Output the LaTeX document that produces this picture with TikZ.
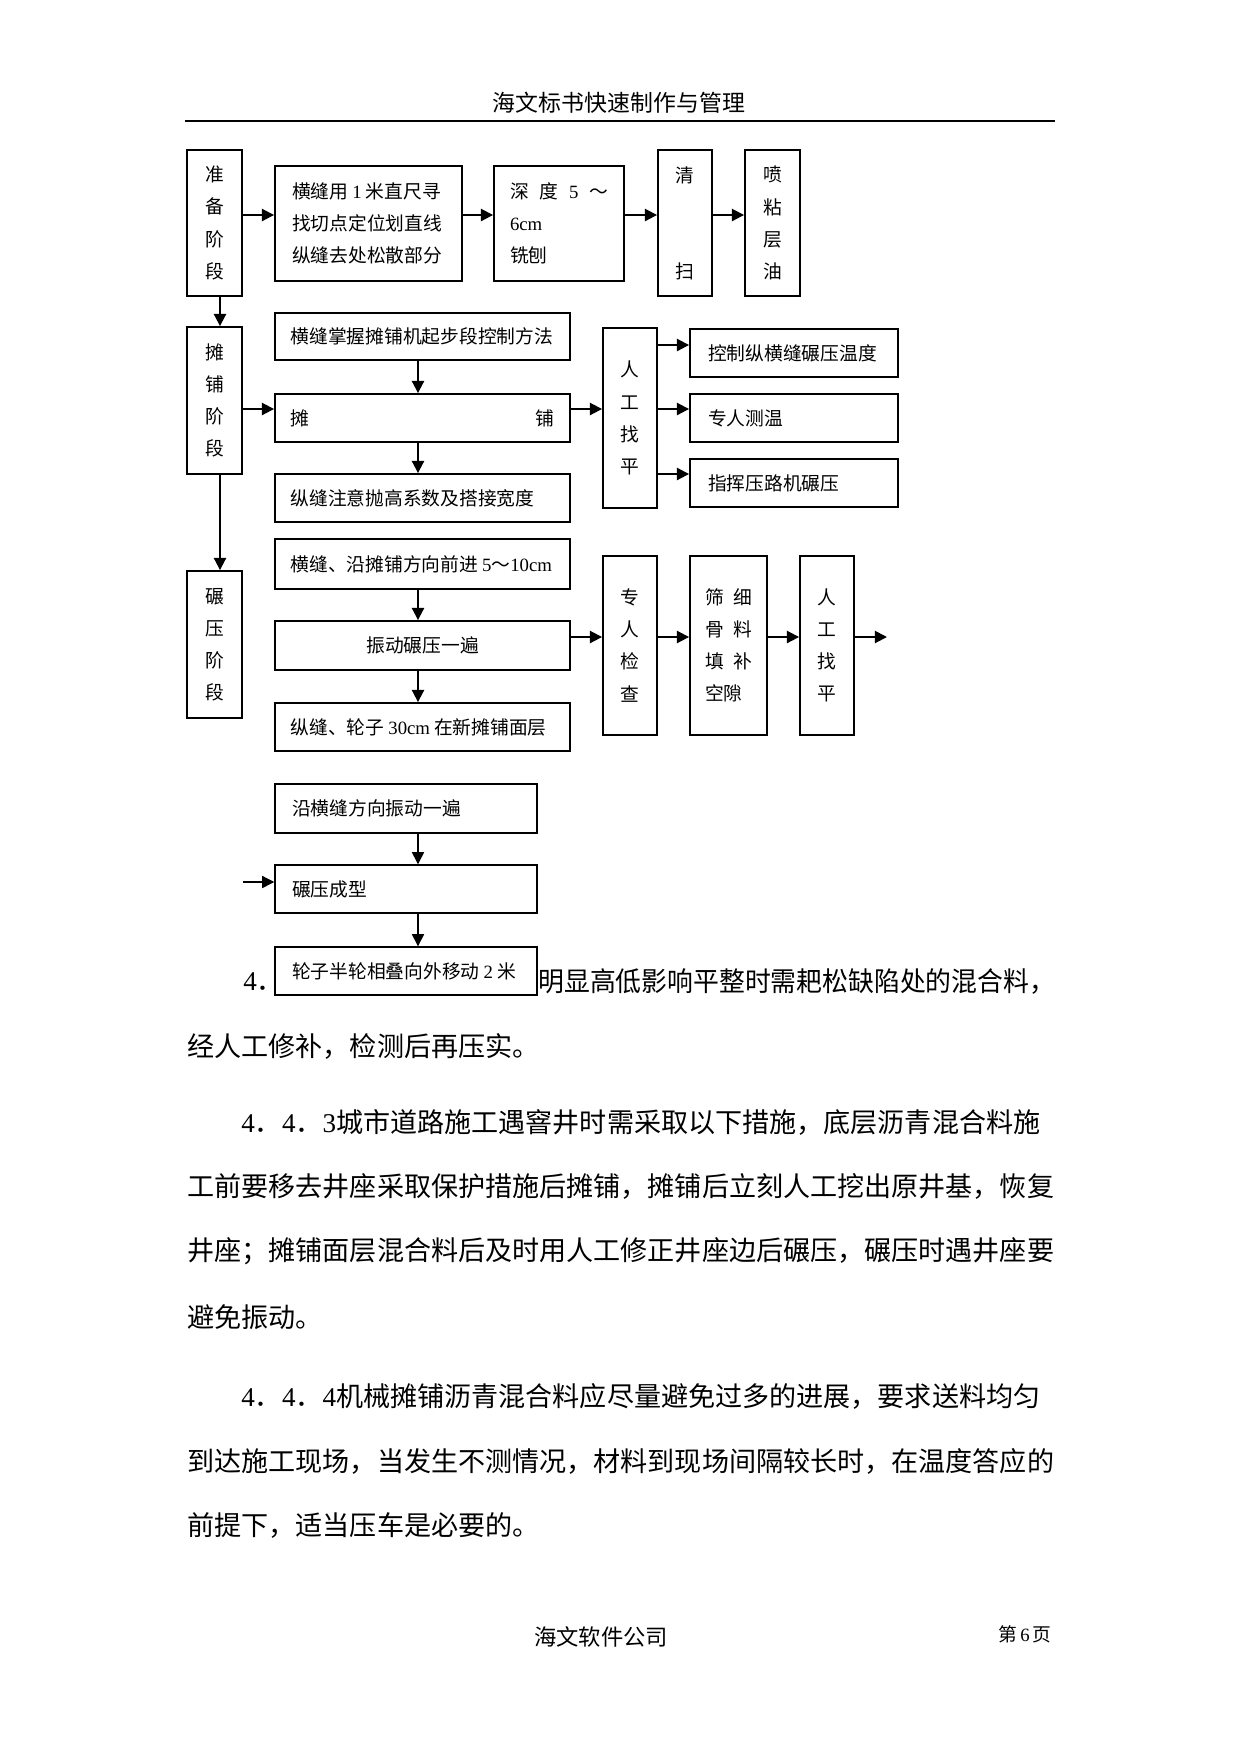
\documentclass[tikz,border=0pt]{standalone}
\usepackage{fontspec}
\usepackage{graphicx}
\setmainfont{Liberation Serif}
\newfontfamily\cjk{Noto Sans CJK SC}
\usetikzlibrary{arrows.meta}
\newdimen\pxu \pxu=0.48pt
\newcommand\latn[1]{{\rmfamily #1}}
\newcommand\dtext{\cjk\fontsize{9pt}{15.4pt}\selectfont}
\newcommand\btext{\cjk\fontsize{13pt}{16pt}\selectfont}
\tikzset{
  bx/.style={draw, line width=0.9pt, fill=white, inner sep=0pt, font=\dtext},
  vbx/.style={bx, align=center},
  lbx/.style={bx, align=left},
  thinbx/.style={bx, align=left, line width=0.7pt},
  arr/.style={line width=0.9pt, -{Triangle[length=5.8pt, width=5.8pt]}},
  thinarr/.style={line width=0.7pt, -{Triangle[length=5.8pt, width=5.8pt]}},
  body/.style={font=\btext, inner sep=0pt, anchor=west}
}
\begin{document}
\begin{tikzpicture}[x=\pxu, y=-\pxu]
\fill[white] (0,0) rectangle (1241,1754);
\useasboundingbox (0,0) rectangle (1241,1754);

% header and footer
\node[font=\cjk\fontsize{11pt}{13pt}\selectfont, inner sep=0pt] (hdr) at (619,103) {海文标书快速制作与管理};
\coordinate (hl) at (185,121);
\coordinate (hr) at (1055,121);
\draw[line width=1pt] (hl) -- (hr);
\node[font=\cjk\fontsize{10.7pt}{13pt}\selectfont, inner sep=0pt] (ftr) at (601,1637) {海文软件公司};
\node[font=\cjk\fontsize{9pt}{11pt}\selectfont, inner sep=0pt, anchor=east] (pg) at (1052,1634) {第\,\latn{6}\,页};

% row 1
\node[vbx, minimum width=55\pxu, minimum height=146\pxu] (A1) at (214.5,223) {准\\备\\阶\\段};
\node[lbx, text width=153\pxu, inner xsep=17\pxu, minimum height=115\pxu] (A2) at (368.5,223.5)
  {横缝用\hspace{2pt}\latn{1}\hspace{2pt}米直尺寻\\找切点定位划直线\\纵缝去处松散部分};
\node[lbx, text width=98\pxu, inner xsep=16\pxu, minimum height=115\pxu] (A3) at (559,223.5)
  {\hbox to 98\pxu{深\hfill 度\hfill\latn{5}\hfill ～}\\\latn{6cm}\\铣刨};
\node[vbx, minimum width=54\pxu, minimum height=146\pxu] (A4) at (685,223) {清\\\mbox{}\\\mbox{}\\扫};
\node[vbx, minimum width=55\pxu, minimum height=146\pxu] (A5) at (772.5,223) {喷\\粘\\层\\油};

% row 2
\node[vbx, minimum width=55\pxu, minimum height=147\pxu] (B1) at (214.5,400.5) {摊\\铺\\阶\\段};
\node[lbx, text width=264\pxu, inner xsep=15.5\pxu, minimum height=47\pxu] (B2) at (422.5,336.5) {横缝掌握摊铺机起步段控制方法};
\node[lbx, text width=264\pxu, inner xsep=15.5\pxu, minimum height=48\pxu] (B3) at (422.5,418) {\hbox to 264\pxu{摊\hfill 铺}};
\node[lbx, text width=264\pxu, inner xsep=15.5\pxu, minimum height=48\pxu] (B4) at (422.5,498) {纵缝注意抛高系数及搭接宽度};
\node[vbx, minimum width=54\pxu, minimum height=180\pxu] (B5) at (630,418) {人\\工\\找\\平};
\node[lbx, text width=172\pxu, inner xsep=18\pxu, minimum height=48\pxu] (B6) at (794,353) {控制纵横缝碾压温度};
\node[lbx, text width=172\pxu, inner xsep=18\pxu, minimum height=48\pxu] (B7) at (794,418) {专人测温};
\node[lbx, text width=172\pxu, inner xsep=18\pxu, minimum height=48\pxu] (B8) at (794,483) {指挥压路机碾压};

% row 3
\node[vbx, minimum width=55\pxu, minimum height=147\pxu] (C1) at (214.5,644.5) {碾\\压\\阶\\段};
\node[lbx, text width=264\pxu, inner xsep=15.5\pxu, minimum height=50\pxu] (C2) at (422.5,564)
  {横缝、沿摊铺方向前进\hspace{2pt}\latn{5}～\latn{10cm}};
\node[vbx, minimum width=295\pxu, minimum height=49\pxu] (C3) at (422.5,645.5) {振动碾压一遍};
\node[lbx, text width=264\pxu, inner xsep=15.5\pxu, minimum height=48\pxu] (C4) at (422.5,727)
  {纵缝、轮子\hspace{2pt}\latn{30cm}\hspace{2pt}在新摊铺面层};
\node[vbx, minimum width=54\pxu, minimum height=179\pxu] (C5) at (630,645.5) {专\\人\\检\\查};
\node[lbx, minimum width=77\pxu, minimum height=179\pxu] (C6) at (728.5,645.5)
  {筛\hspace{4.5pt}细\\骨\hspace{4.5pt}料\\填\hspace{4.5pt}补\\空隙};
\node[vbx, minimum width=54\pxu, minimum height=179\pxu] (C7) at (827,645.5) {人\\工\\找\\平};

% row 4
\node[thinbx, text width=228\pxu, inner xsep=17\pxu, minimum height=49\pxu] (D1) at (406,808.5) {沿横缝方向振动一遍};
\node[thinbx, text width=228\pxu, inner xsep=17\pxu, minimum height=48\pxu] (D2) at (406,889) {碾压成型};
\node[thinbx, text width=228\pxu, inner xsep=17\pxu, minimum height=48\pxu] (D3) at (406,971)
  {轮子半轮相叠向外移动\hspace{2pt}\latn{2}\hspace{2pt}米};

% connectors
\coordinate (ya) at (0,215);
\coordinate (xa) at (220,0);
\coordinate (yb) at (0,409);
\coordinate (yb6) at (0,345);
\coordinate (yb8) at (0,474);
\coordinate (xv) at (418,0);
\coordinate (yc) at (0,637);
\coordinate (cend) at (887,637);
\coordinate (dstart) at (243,882);

\draw[arr] (A1.east |- ya) -- (A2.west |- ya);
\draw[arr] (A2.east |- ya) -- (A3.west |- ya);
\draw[arr] (A3.east |- ya) -- (A4.west |- ya);
\draw[arr] (A4.east |- ya) -- (A5.west |- ya);
\draw[arr] (A1.south -| xa) -- (B1.north -| xa);
\draw[arr] (B1.south -| xa) -- (C1.north -| xa);

\draw[arr] (B1.east |- yb) -- (B3.west |- yb);
\draw[arr] (B3.east |- yb) -- (B5.west |- yb);
\draw[arr] (B2.south -| xv) -- (B3.north -| xv);
\draw[arr] (B3.south -| xv) -- (B4.north -| xv);
\draw[arr] (B5.east |- yb6) -- (B6.west |- yb6);
\draw[arr] (B5.east |- yb) -- (B7.west |- yb);
\draw[arr] (B5.east |- yb8) -- (B8.west |- yb8);

\draw[arr] (C3.east |- yc) -- (C5.west |- yc);
\draw[arr] (C5.east |- yc) -- (C6.west |- yc);
\draw[arr] (C6.east |- yc) -- (C7.west |- yc);
\draw[arr] (C7.east |- yc) -- (cend);
\draw[arr] (C2.south -| xv) -- (C3.north -| xv);
\draw[arr] (C3.south -| xv) -- (C4.north -| xv);

\draw[thinarr] (D1.south -| xv) -- (D2.north -| xv);
\draw[thinarr] (D2.south -| xv) -- (D3.north -| xv);
\draw[line width=0.6pt, -{Triangle[length=5.8pt, width=5.8pt]}] (dstart) -- (D2.west |- dstart);

% body text
\node[body] (t0a) at (243,982) {\latn{4}．};
\node[body] (t0b) at (538,982) {\scalebox{0.954}[1]{明显高低影响平整时需耙松缺陷处的混合料，}};
\node[body] (t1) at (187,1046) {经人工修补，检测后再压实。};
\node[body] (t2) at (241,1122) {\latn{4}．\latn{4}．\latn{3}城市道路施工遇窨井时需采取以下措施，底层沥青混合料施};
\node[body] (t3) at (187,1186) {工前要移去井座采取保护措施后摊铺，摊铺后立刻人工挖出原井基，恢复};
\node[body] (t4) at (187,1251) {井座；摊铺面层混合料后及时用人工修正井座边后碾压，碾压时遇井座要};
\node[body] (t5) at (187,1317) {避免振动。};
\node[body] (t6) at (241,1396) {\latn{4}．\latn{4}．\latn{4}机械摊铺沥青混合料应尽量避免过多的进展，要求送料均匀};
\node[body] (t7) at (187,1461) {到达施工现场，当发生不测情况，材料到现场间隔较长时，在温度答应的};
\node[body] (t8) at (187,1525) {前提下，适当压车是必要的。};
\end{tikzpicture}
\end{document}
